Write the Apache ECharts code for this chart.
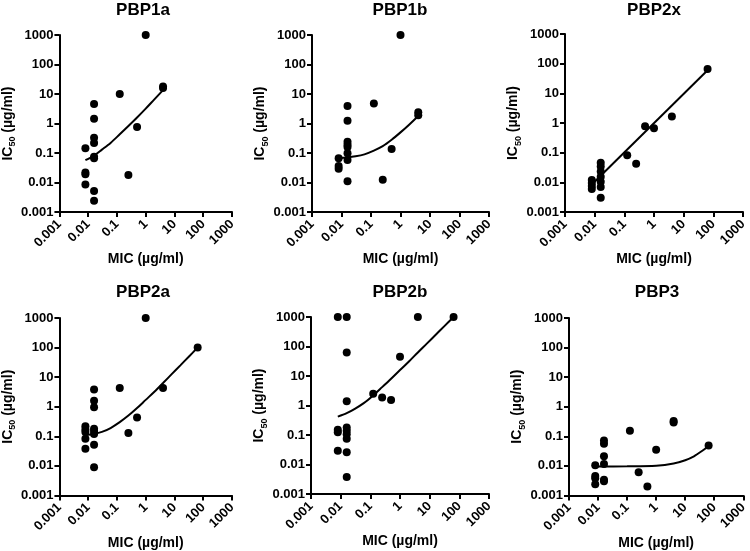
<!DOCTYPE html>
<html><head><meta charset="utf-8">
<script src="https://cdn.jsdelivr.net/npm/echarts@6/dist/echarts.min.js"></script>
<style>html,body{margin:0;padding:0;background:#fff}#c{width:750px;height:551px}</style>
</head><body><div id="c"></div>
<script>
const tickLabels = ['0.001','0.01','0.1','1','10','100','1000'];
const panelTitles = ['PBP1a','PBP1b','PBP2x','PBP2a','PBP2b','PBP3'];
const xAxisName = 'MIC (µg/ml)';

// PBP1a
const pbp1aMIC  = [0.008,0.008,0.008,0.008,0.016,0.016,0.016,0.016,0.016,0.016,0.016,0.016,0.125,0.25,0.5,1,4,4];
const pbp1aIC50 = [0.145,0.022,0.019,0.0085,4.6,1.45,0.33,0.22,0.075,0.066,0.0052,0.0024,10,0.018,0.76,1000,16,18];
const pbp1aFitMIC  = [0.008,0.016,0.03,0.06,0.125,0.25,0.5,1,2,4];
const pbp1aFitIC50 = [0.057,0.082,0.13,0.22,0.43,0.82,1.6,3.2,6.6,13.5];
// PBP1b
const pbp1bMIC  = [0.008,0.008,0.008,0.016,0.016,0.016,0.016,0.016,0.016,0.016,0.016,0.125,0.25,0.5,1,4,4];
const pbp1bIC50 = [0.066,0.036,0.029,3.9,1.25,0.24,0.19,0.16,0.098,0.058,0.011,4.8,0.0125,0.137,1000,2.4,1.9];
const pbp1bFitMIC  = [0.008,0.016,0.03,0.06,0.125,0.25,0.5,1,2,4];
const pbp1bFitIC50 = [0.068,0.071,0.077,0.09,0.12,0.17,0.28,0.5,0.93,1.8];
// PBP2x
const pbp2xMIC  = [0.008,0.008,0.008,0.008,0.016,0.016,0.016,0.016,0.016,0.016,0.016,0.125,0.25,0.5,1,4,64];
const pbp2xIC50 = [0.012,0.0095,0.0075,0.006,0.046,0.034,0.023,0.0155,0.0105,0.007,0.003,0.082,0.042,0.78,0.66,1.65,66];
const pbp2xFitMIC  = [0.008,64];
const pbp2xFitIC50 = [0.0085,60];
// PBP2a
const pbp2aMIC  = [0.008,0.008,0.008,0.008,0.008,0.016,0.016,0.016,0.016,0.016,0.016,0.016,0.016,0.125,0.25,0.5,1,4,64];
const pbp2aIC50 = [0.22,0.17,0.14,0.083,0.038,3.8,1.6,0.95,0.18,0.15,0.12,0.052,0.009,4.3,0.13,0.43,1000,4.3,100];
const pbp2aFitMIC  = [0.008,0.016,0.03,0.06,0.125,0.25,0.5,1,2,4,8,16,32,64];
const pbp2aFitIC50 = [0.11,0.12,0.14,0.19,0.3,0.5,0.9,1.7,3.2,6.3,12.6,25,50,100];
// PBP2b
const pbp2bMIC  = [0.008,0.008,0.008,0.008,0.016,0.016,0.016,0.016,0.016,0.016,0.016,0.016,0.016,0.125,0.25,0.5,1,4,64];
const pbp2bIC50 = [1000,0.15,0.125,0.029,1000,62,1.4,0.18,0.14,0.105,0.075,0.026,0.0038,2.5,1.85,1.55,45,1000,1000];
const pbp2bFitMIC  = [0.008,0.016,0.03,0.06,0.125,0.25,0.5,1,2,4,8,16,32,64];
const pbp2bFitIC50 = [0.42,0.55,0.77,1.2,2.2,4.2,8.1,16,31,63,125,250,500,1000];
// PBP3
const pbp3MIC  = [0.008,0.008,0.008,0.008,0.016,0.016,0.016,0.016,0.016,0.016,0.125,0.25,0.5,1,4,4,64];
const pbp3IC50 = [0.0105,0.0045,0.0038,0.0024,0.072,0.056,0.021,0.0115,0.0034,0.003,0.155,0.006,0.002,0.035,0.33,0.29,0.049];
const pbp3FitMIC  = [0.008,0.1,1,4,10,20,40,64];
const pbp3FitIC50 = [0.0095,0.0096,0.0101,0.012,0.0155,0.021,0.033,0.047];

const panels = [
  {mic:pbp1aMIC, ic:pbp1aIC50, fx:pbp1aFitMIC, fy:pbp1aFitIC50},
  {mic:pbp1bMIC, ic:pbp1bIC50, fx:pbp1bFitMIC, fy:pbp1bFitIC50},
  {mic:pbp2xMIC, ic:pbp2xIC50, fx:pbp2xFitMIC, fy:pbp2xFitIC50},
  {mic:pbp2aMIC, ic:pbp2aIC50, fx:pbp2aFitMIC, fy:pbp2aFitIC50},
  {mic:pbp2bMIC, ic:pbp2bIC50, fx:pbp2bFitMIC, fy:pbp2bFitIC50},
  {mic:pbp3MIC,  ic:pbp3IC50,  fx:pbp3FitMIC,  fy:pbp3FitIC50}
];

// layout (pixels)
const gridBoxes = [
  {left:55,  top:35,  width:177, height:177},
  {left:312, top:35,  width:177, height:177},
  {left:565, top:34,  width:178, height:178},
  {left:54,  top:318, width:178, height:178},
  {left:311, top:317, width:178, height:177},
  {left:569, top:318, width:178, height:178}
];
const titlePos = [[143,10],[400,10],[654,10],[143,292],[400,292],[657,292]];

const FONT = '"Liberation Sans", Arial, Helvetica, sans-serif';
const fmt = v => tickLabels[Math.round(Math.log10(v)) + 3];

const axisCommon = {
  type:'log', logBase:10, min:0.001, max:1000, interval:1,
  axisLine:{show:true, onZero:false, lineStyle:{color:'#000', width:2}},
  axisTick:{show:true, length:5, lineStyle:{color:'#000', width:2}},
  splitLine:{show:false}, minorTick:{show:false},
};

const grid=[], xAxis=[], yAxis=[], series=[], graphic=[];
gridBoxes.forEach((g,i)=>{
  grid.push(Object.assign({containLabel:false}, g));
  xAxis.push(Object.assign({}, axisCommon, {
    gridIndex:i,
    name:xAxisName, nameLocation:'middle', nameGap:36,
    nameTextStyle:{color:'#000', fontWeight:'bold', fontSize:14, fontFamily:FONT},
    axisLabel:{color:'#000', fontWeight:'bold', fontSize:13, fontFamily:FONT, rotate:45, margin:10,
      formatter:fmt, showMinLabel:true, showMaxLabel:true}
  }));
  yAxis.push(Object.assign({}, axisCommon, {
    gridIndex:i,
    name:'{m|IC}{s|50}{m| (µg/ml)}', nameLocation:'middle', nameGap:36, nameRotate:90,
    nameTextStyle:{rich:{
      m:{color:'#000', fontWeight:'bold', fontSize:14, fontFamily:FONT, lineHeight:18, verticalAlign:'middle'},
      s:{color:'#000', fontWeight:'bold', fontSize:9, fontFamily:FONT, lineHeight:9, verticalAlign:'bottom'}
    }},
    axisLabel:{color:'#000', fontWeight:'bold', fontSize:13, fontFamily:FONT, margin:6,
      formatter:fmt, showMinLabel:true, showMaxLabel:true}
  }));
  const p = panels[i];
  series.push({
    type:'scatter', xAxisIndex:i, yAxisIndex:i, symbol:'circle', symbolSize:8,
    itemStyle:{color:'#000', opacity:1}, data:p.mic.map((x,k)=>[x,p.ic[k]]), z:3, silent:true
  });
  series.push({
    type:'line', xAxisIndex:i, yAxisIndex:i, showSymbol:false, smooth:0.3,
    lineStyle:{color:'#000', width:2}, data:p.fx.map((x,k)=>[x,p.fy[k]]), z:2, silent:true
  });
  graphic.push({type:'text', x:titlePos[i][0], y:titlePos[i][1],
    style:{text:panelTitles[i], fill:'#000', font:'bold 17px '+FONT, align:'center', verticalAlign:'middle',
      textAlign:'center', textVerticalAlign:'middle'}});
});

const chart = echarts.init(document.getElementById('c'), null, {renderer:'canvas'});
chart.setOption({animation:false, backgroundColor:'#fff', grid, xAxis, yAxis, series, graphic});
</script>
</body></html>
